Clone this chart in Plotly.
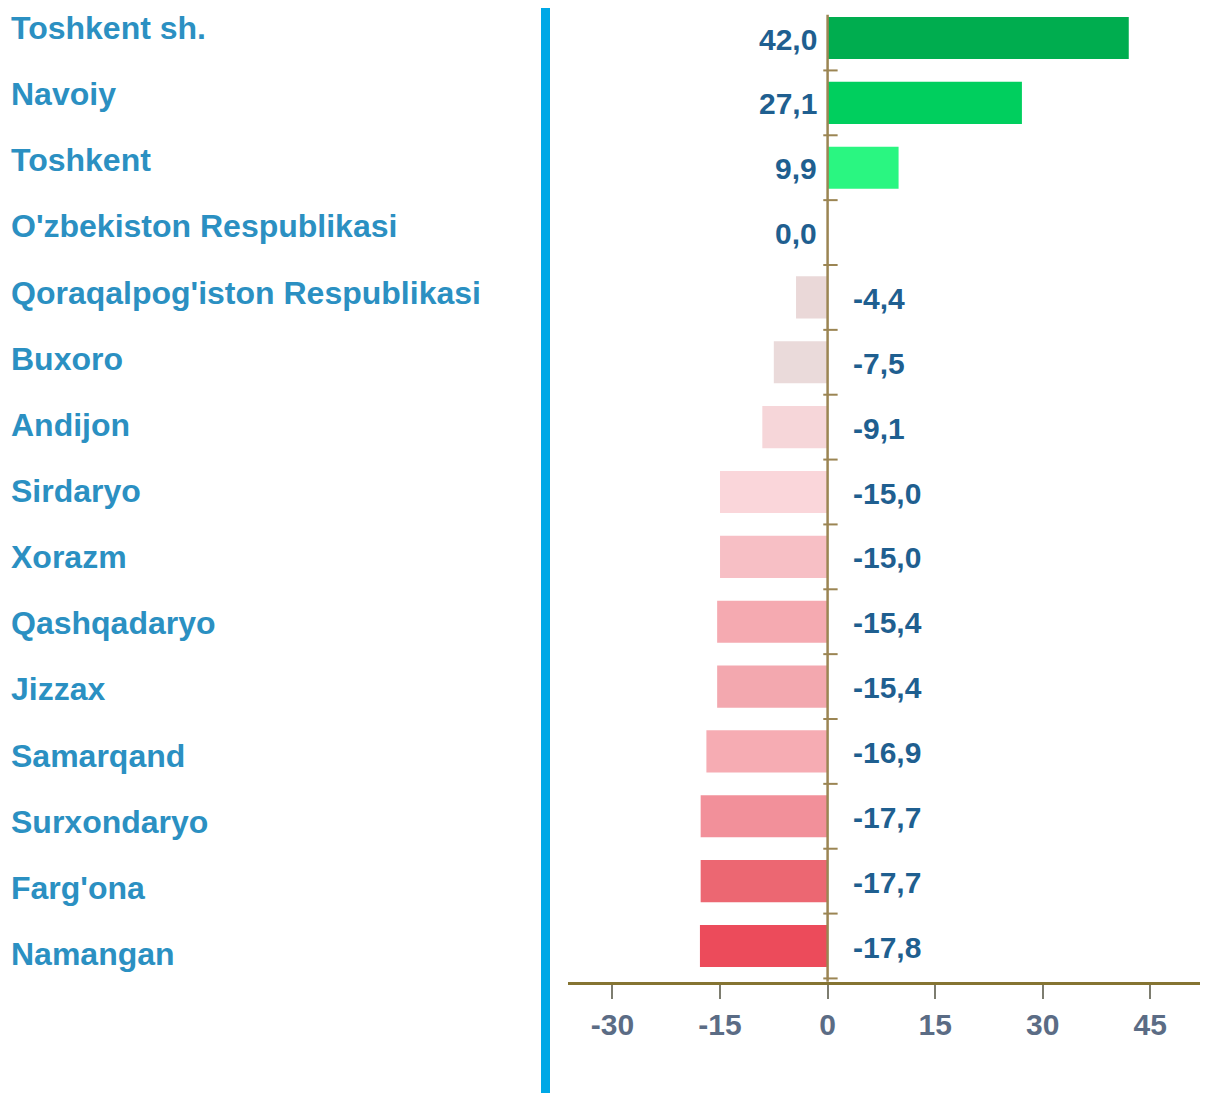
import plotly.graph_objects as go

# ---- data ----
regions = [
    "Toshkent sh.", "Navoiy", "Toshkent", "O'zbekiston Respublikasi",
    "Qoraqalpog'iston Respublikasi", "Buxoro", "Andijon", "Sirdaryo",
    "Xorazm", "Qashqadaryo", "Jizzax", "Samarqand", "Surxondaryo",
    "Farg'ona", "Namangan",
]
values = [42.0, 27.1, 9.9, 0.0, -4.4, -7.5, -9.1, -15.0, -15.0, -15.4,
          -15.4, -16.9, -17.7, -17.7, -17.8]
x_ticks = [-30, -15, 0, 15, 30, 45]

# ---- styles ----
bar_colors = ["#00ad4f", "#00cf5e", "#2af681", "#ffffff", "#ead8d8",
              "#eadada", "#f6d6d9", "#fad6da", "#f7bfc5", "#f5aab1",
              "#f3a8af", "#f6acb3", "#f2909a", "#ec6772", "#ec4b5b"]
LABEL_BLUE = "#2b90c2"
VALUE_BLUE = "#1f5f90"
AXIS_BROWN = "#857432"
ZERO_BROWN = "#9b8553"
SANS = "Liberation Sans, Arial, sans-serif"

# page body has an 8px margin, so the figure is 8px smaller than the window
W, H = 1200, 1085
ML, MR, MT, MB = 560, 0, 0, 111
plot_w = W - ML - MR

fig = go.Figure()
fig.add_trace(go.Bar(
    x=values, y=regions, orientation="h",
    marker=dict(color=bar_colors, line=dict(width=0)),
    width=0.65, hoverinfo="x+y",
))
# invisible helper trace for the (slightly more spread out) name column axis
fig.add_trace(go.Scatter(
    x=[None] * len(regions), y=regions, yaxis="y2", mode="markers",
    hoverinfo="skip", showlegend=False,
))

annotations = []
for i, (r, v) in enumerate(zip(regions, values)):
    annotations.append(dict(
        x=(1 - ML) / plot_w, xref="paper", y=r, yref="y2",
        text=r, showarrow=False, xanchor="left", yanchor="middle",
        font=dict(family=SANS, size=32, color=LABEL_BLUE, weight="bold"),
    ))
    txt = f"{v:.1f}".replace(".", ",")
    if v >= 0:
        annotations.append(dict(
            x=0, xref="x", y=r, yref="y", text=txt, showarrow=False,
            xanchor="right", yanchor="middle", xshift=-9, yshift=-1,
            font=dict(family=SANS, size=30, color=VALUE_BLUE, weight="bold"),
        ))
    else:
        annotations.append(dict(
            x=0, xref="x", y=r, yref="y", text=txt, showarrow=False,
            xanchor="left", yanchor="middle", xshift=23, yshift=-1,
            font=dict(family=SANS, size=30, color=VALUE_BLUE, weight="bold"),
        ))

shapes = []
# vertical blue separator
shapes.append(dict(type="rect", xref="paper", yref="paper",
                   x0=-27 / plot_w, x1=-18 / plot_w,
                   y0=-0.2, y1=1.05, fillcolor="#00a8e6", line=dict(width=0),
                   layer="above"))
# zero line
shapes.append(dict(type="line", xref="x", yref="y", x0=0, x1=0,
                   y0=-0.36, y1=len(regions) - 0.45,
                   line=dict(color=ZERO_BROWN, width=2.5), layer="above"))
# small ticks on the zero line between categories
for i in range(len(regions)):
    shapes.append(dict(type="line", xref="x", yref="y", x0=-0.6, x1=1.4,
                       y0=i + 0.5, y1=i + 0.5,
                       line=dict(color=ZERO_BROWN, width=2), layer="above"))

fig.update_layout(
    width=W, height=H,
    margin=dict(l=ML, r=MR, t=MT, b=MB),
    paper_bgcolor="white", plot_bgcolor="white",
    showlegend=False, bargap=0.35,
    annotations=annotations, shapes=shapes,
    xaxis=dict(
        range=[-36.2, 53.05], tickvals=x_ticks,
        ticktext=[str(t) for t in x_ticks],
        showgrid=False, zeroline=False,
        showline=True, linecolor=AXIS_BROWN, linewidth=3,
        ticks="outside", ticklen=14, tickwidth=2, tickcolor="#7d7d70",
        tickfont=dict(family=SANS, size=30, color="#5b6c85", weight="bold"),
        fixedrange=True,
    ),
    yaxis=dict(
        categoryorder="array", categoryarray=regions,
        range=[14.555, -0.4625], showticklabels=False,
        showgrid=False, zeroline=False, showline=False, ticks="",
        fixedrange=True,
    ),
    yaxis2=dict(
        overlaying="y", side="left",
        categoryorder="array", categoryarray=regions,
        range=[14.423, -0.302], showticklabels=False,
        showgrid=False, zeroline=False, showline=False, ticks="",
        fixedrange=True,
    ),
)

fig.write_html("out.html")
